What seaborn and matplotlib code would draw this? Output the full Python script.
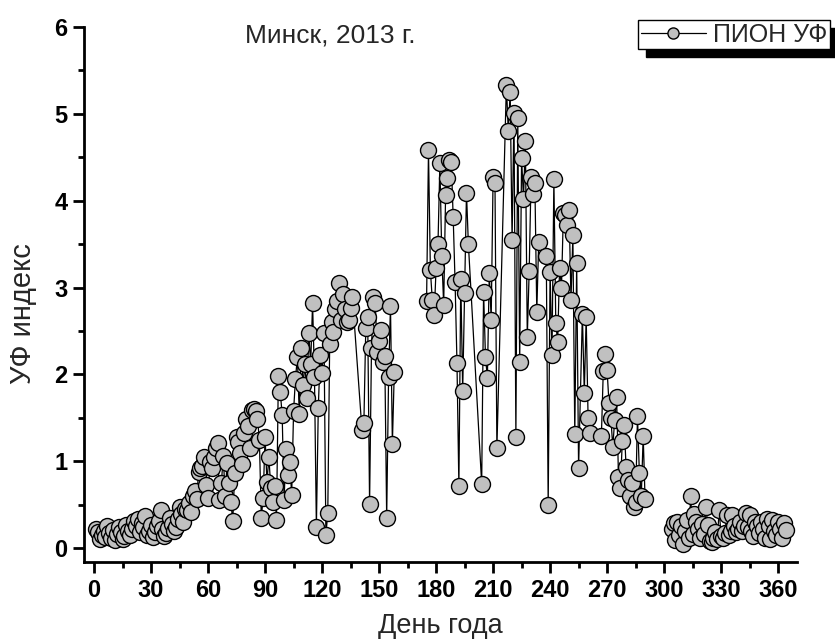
import numpy as np
import pandas as pd
import matplotlib
matplotlib.use("Agg")
import matplotlib.pyplot as plt
from matplotlib.lines import Line2D
from matplotlib.ticker import MultipleLocator
import seaborn as sns

# Daily UV index, Minsk 2013, split in runs of consecutive days
uv_d1_136 = [
    0.22, 0.18, 0.10, 0.15, 0.20, 0.13, 0.26, 0.17, 0.12, 0.21,
    0.09, 0.16, 0.24, 0.19, 0.11, 0.14, 0.27, 0.20, 0.15, 0.22,
    0.31, 0.26, 0.34, 0.18, 0.29, 0.24, 0.37, 0.15, 0.20, 0.27,
    0.13, 0.19, 0.25, 0.31, 0.44, 0.22, 0.14, 0.17, 0.23, 0.35,
    0.28, 0.20, 0.24, 0.33, 0.47, 0.39, 0.30, 0.45, 0.44, 0.52,
    0.42, 0.60, 0.66, 0.56, 0.88, 0.92, 0.95, 1.05, 0.73, 0.58,
    0.99, 0.92, 1.05, 1.15, 1.21, 0.55, 0.75, 1.06, 0.60, 0.98,
    0.75, 0.53, 0.31, 0.86, 1.28, 1.22, 1.09, 0.97, 1.33, 1.49,
    1.41, 1.15, 1.59, 1.60, 1.58, 1.49, 1.25, 0.35, 0.58, 1.28,
    0.76, 1.05, 0.69, 0.53, 0.72, 0.32, 1.98, 1.80, 1.53, 0.55,
    1.14, 0.84, 0.99, 0.61, 1.58, 1.95, 2.20, 1.54, 2.30, 1.88,
    2.12, 1.73, 2.48, 2.12, 2.82, 1.97, 0.24, 1.61, 2.22, 2.02,
    2.48, 0.15, 0.40, 2.35, 2.60, 2.49, 2.75, 2.85, 3.05, 2.63,
    2.93, 2.75, 2.60, 2.63, 2.77, 2.89,
]
uv_d141_158 = [1.36, 1.44, 2.53, 2.66, 0.51, 2.30, 2.89, 2.82, 2.26, 2.38,
               2.51, 2.14, 2.21, 0.35, 1.97, 2.79, 1.20, 2.03]
uv_d175_197 = [2.85, 4.58, 3.20, 2.86, 2.68, 3.22, 3.50, 4.43, 3.36, 2.80,
               4.06, 4.26, 4.47, 4.45, 3.81, 3.06, 2.13, 0.71, 3.10, 1.81,
               2.94, 4.09, 3.50]
uv_d204_212 = [0.74, 2.95, 2.20, 1.96, 3.17, 2.63, 4.27, 4.20, 1.15]
uv_d217_234 = [5.33, 4.80, 5.25, 3.55, 5.01, 1.28, 4.95, 2.14, 4.49, 4.02,
               4.69, 2.43, 3.19, 4.27, 4.08, 4.20, 2.72, 3.52]
uv_d238_255 = [3.36, 0.50, 3.18, 2.22, 4.25, 2.59, 2.37, 3.23, 3.00, 3.86,
               3.84, 3.72, 3.89, 2.86, 3.60, 1.31, 3.28, 0.92]
uv_d257_261 = [2.69, 1.79, 2.66, 1.50, 1.32]
uv_d267_290 = [1.29, 2.04, 2.23, 2.05, 1.67, 1.50, 1.16, 1.48, 1.74, 0.82,
               0.69, 1.23, 1.42, 0.93, 0.78, 0.60, 0.75, 0.47, 0.53, 1.52,
               0.86, 0.60, 1.29, 0.56]
uv_d304_364 = [
    0.22, 0.29, 0.09, 0.30, 0.15, 0.25, 0.05, 0.20, 0.32, 0.12,
    0.60, 0.16, 0.39, 0.30, 0.22, 0.12, 0.28, 0.16, 0.47, 0.27,
    0.08, 0.07, 0.12, 0.18, 0.10, 0.44, 0.14, 0.12, 0.17, 0.38,
    0.15, 0.20, 0.38, 0.25, 0.18, 0.22, 0.30, 0.20, 0.26, 0.40,
    0.24, 0.38, 0.20, 0.14, 0.30, 0.25, 0.17, 0.30, 0.22, 0.12,
    0.33, 0.25, 0.10, 0.32, 0.20, 0.15, 0.30, 0.22, 0.12, 0.29,
    0.21,
]

# (first day, values, connected run) - line is broken only between runs
runs = [
    (1, uv_d1_136, "winter-spring"),
    (141, uv_d141_158, "winter-spring"),
    (175, uv_d175_197, "summer"),
    (204, uv_d204_212, "summer"),
    (217, uv_d217_234, "summer"),
    (238, uv_d238_255, "summer"),
    (257, uv_d257_261, "summer"),
    (267, uv_d267_290, "summer"),
    (304, uv_d304_364, "autumn"),
]

x_ticks = [0, 30, 60, 90, 120, 150, 180, 210, 240, 270, 300, 330, 360]
y_ticks = [0, 1, 2, 3, 4, 5, 6]

rows = []
for start, vals, run in runs:
    for i, v in enumerate(vals):
        rows.append({"day": start + i, "uv": v, "run": run})
df = pd.DataFrame(rows)

sns.set_style("ticks")
plt.rcParams["font.family"] = ["Liberation Sans", "DejaVu Sans"]

fig = plt.figure(figsize=(8.35, 6.4), dpi=100)
ax = fig.add_axes([0.1006, 0.1219, 0.854, 0.8359])

sns.lineplot(data=df, x="day", y="uv", units="run", estimator=None,
             color="black", lw=0.9, marker="o", markersize=11.5,
             markerfacecolor="#c0c0c0", markeredgecolor="black",
             markeredgewidth=1.0, legend=False, ax=ax)

ax.set_xlim(-5.3, 370)
ax.set_ylim(-0.16, 6.0)
ax.set_xticks(x_ticks)
ax.set_xticklabels([str(t) for t in x_ticks], fontweight="bold", fontsize=17)
ax.set_yticks(y_ticks)
ax.set_yticklabels([str(t) for t in y_ticks], fontweight="bold", fontsize=17)
ax.xaxis.set_minor_locator(MultipleLocator(15))
ax.yaxis.set_minor_locator(MultipleLocator(0.5))
ax.tick_params(which="major", length=8, width=2, direction="out", colors="black", pad=4)
ax.tick_params(which="minor", length=4.5, width=2, direction="out", colors="black")

for side in ["top", "right"]:
    ax.spines[side].set_visible(False)
for side in ["left", "bottom"]:
    ax.spines[side].set_linewidth(2)
    ax.spines[side].set_color("black")

ax.set_xlabel("День года", fontsize=19.5, labelpad=8)
ax.set_ylabel("УФ индекс", fontsize=21)
ax.yaxis.set_label_coords(-0.066, 0.465)
ax.text(0.345, 0.985, "Минск, 2013 г.", transform=ax.transAxes,
        ha="center", va="center", fontsize=19)

handle = Line2D([0], [0], color="black", lw=0.9, marker="o", markersize=8,
                markerfacecolor="#c0c0c0", markeredgecolor="black")
ax.legend(handles=[handle], labels=["ПИОН УФ"], loc="upper right",
          bbox_to_anchor=(830 / 835, 1 - 20 / 640), bbox_transform=fig.transFigure,
          borderaxespad=0, frameon=True, fancybox=False, edgecolor="black",
          framealpha=1, fontsize=18, handlelength=2.6, handletextpad=0.3,
          borderpad=0.1,
          shadow={"color": "black", "alpha": 1, "ox": 6, "oy": -6})

fig.savefig("out.png", dpi=100, facecolor="white")
